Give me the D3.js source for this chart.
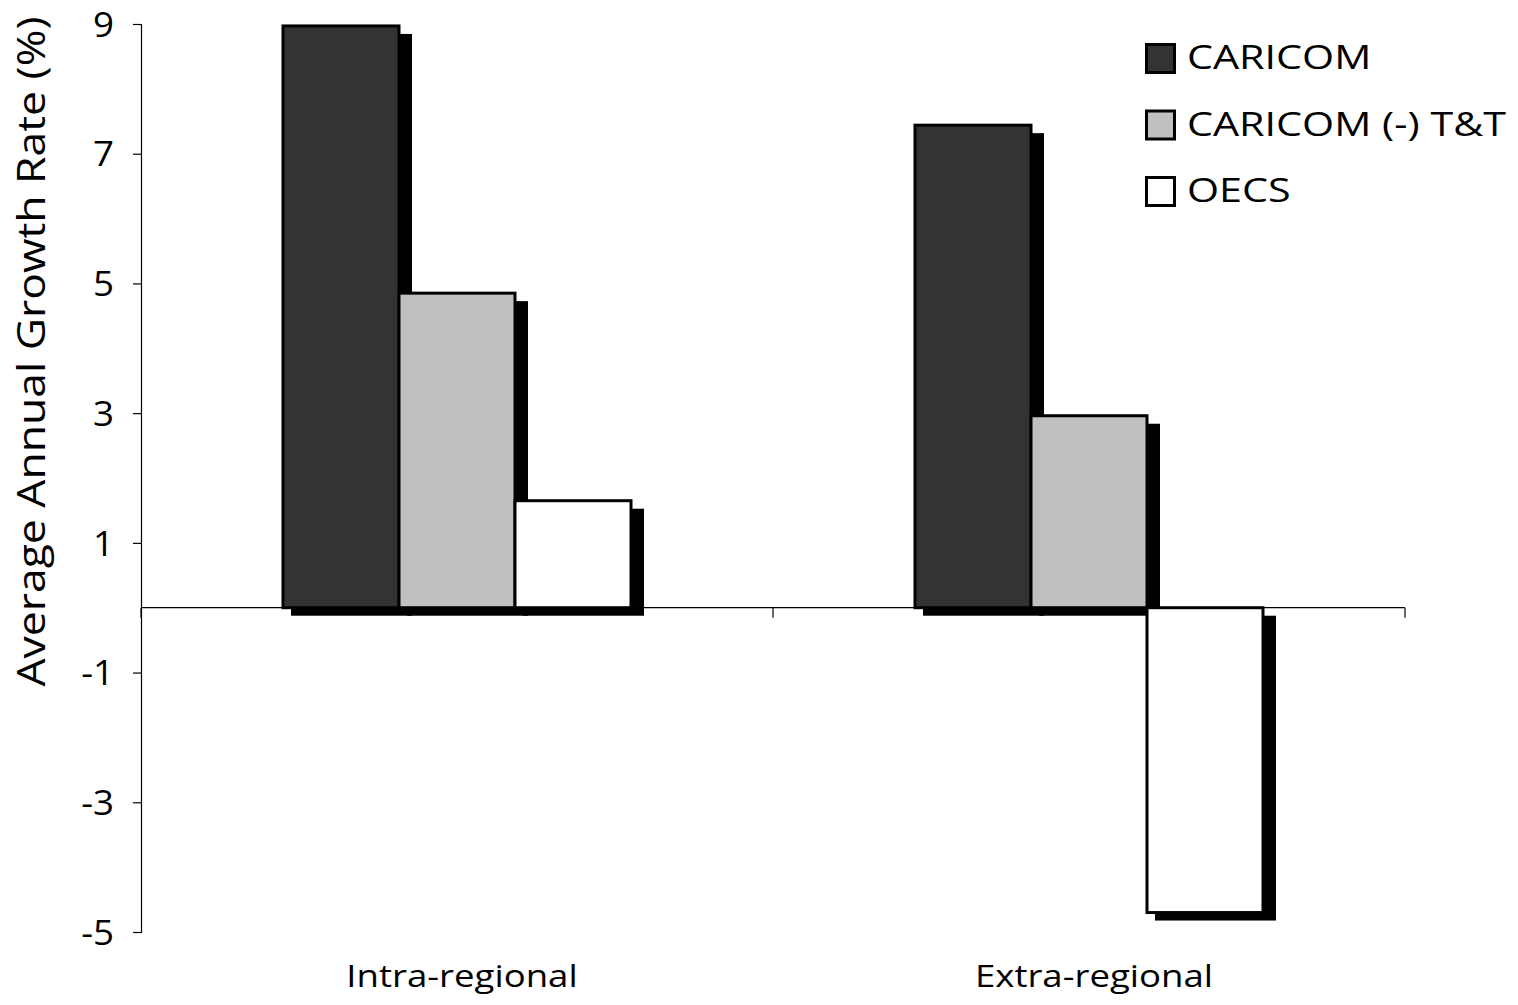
<!DOCTYPE html>
<html><head><meta charset="utf-8">
<script src="https://cdn.jsdelivr.net/npm/d3@7"></script>
<style>body{margin:0;background:#fff}svg{display:block}text{font-family:"Open Sans",Lato,sans-serif;fill:#000}</style>
</head><body>
<script>
const categories = ["Intra-regional", "Extra-regional"];
const seriesNames = ["CARICOM", "CARICOM (-) T&T", "OECS"];
const caricom = [8.97, 7.44];
const caricomNoTT = [4.85, 2.96];
const oecs = [1.65, -4.70];
const yTicks = [9, 7, 5, 3, 1, -1, -3, -5];
const colors = ["#333333", "#c0c0c0", "#ffffff"];

(function () {
const W = 1518, H = 1005;
const svg = d3.select("body").append("svg").attr("width", W).attr("height", H);
const mLeft = 141, mRight = 1405, mTop = 24, mBottom = 932;
const y = d3.scaleLinear().domain([-5, 9]).range([mBottom, mTop]);
const x0 = d3.scaleBand().domain(categories).range([mLeft, mRight]);
const x1 = d3.scaleBand().domain(seriesNames).range([0, 348]);
const seriesVals = [caricom, caricomNoTT, oecs];
const stretch = (sel, k) => sel.each(function () {
  const len = this.getComputedTextLength();
  d3.select(this).attr("textLength", len * k).attr("lengthAdjust", "spacingAndGlyphs");
});

const yAxis = svg.append("g").attr("transform", `translate(${mLeft},0)`)
  .call(d3.axisLeft(y).tickValues(yTicks).tickSize(8).tickPadding(19).tickFormat(d => String(d)));
yAxis.select(".domain").attr("stroke", "#000").attr("stroke-width", 1.2);
yAxis.selectAll(".tick line").attr("stroke", "#000").attr("stroke-width", 1.2);
yAxis.selectAll(".tick text").attr("font-size", 35).attr("font-family", "'Open Sans',Lato,sans-serif").attr("dy", "0.35em");
stretch(yAxis.selectAll(".tick text"), 1.05);

svg.append("line").attr("x1", mLeft).attr("x2", mRight).attr("y1", y(0)).attr("y2", y(0)).attr("stroke", "#000").attr("stroke-width", 1.2);
const catTicks = [mLeft, x0(categories[1]), mRight];
svg.selectAll(".ct").data(catTicks).enter().append("line")
  .attr("x1", d => d).attr("x2", d => d).attr("y1", y(0)).attr("y2", y(0) + 10)
  .attr("stroke", "#000").attr("stroke-width", 1.2);

const data = [];
categories.forEach((c, ci) => seriesNames.forEach((s, si) => data.push({c, s, si, v: seriesVals[si][ci]})));
const bx = d => x0(d.c) + (x0.bandwidth() - 348) / 2 + x1(d.s);
const g = svg.append("g");
g.selectAll(".sh").data(data).enter().append("rect")
  .attr("x", d => bx(d) + 8)
  .attr("y", d => Math.min(y(d.v), y(0)) + 8)
  .attr("width", x1.bandwidth() + 5)
  .attr("height", d => Math.abs(y(d.v) - y(0)))
  .attr("fill", "#000");
g.selectAll(".bar").data(data).enter().append("rect")
  .attr("x", d => bx(d))
  .attr("y", d => Math.min(y(d.v), y(0)))
  .attr("width", x1.bandwidth())
  .attr("height", d => Math.abs(y(d.v) - y(0)))
  .attr("fill", d => colors[d.si]).attr("stroke", "#000").attr("stroke-width", 3);

const cl = svg.selectAll(".cl").data(categories).enter().append("text")
  .attr("x", d => x0(d) + x0.bandwidth() / 2 + 5).attr("y", 987)
  .attr("text-anchor", "middle").attr("font-size", 31).text(d => d);
stretch(cl, 1.18);

const yt = svg.append("text").attr("transform", `translate(45,${(15 + 688) / 2}) rotate(-90)`)
  .attr("text-anchor", "middle").attr("font-size", 39).text("Average Annual Growth Rate (%)");
stretch(yt, 1.14);

const lg = svg.append("g").attr("transform", "translate(1145,43)");
seriesNames.forEach((s, i) => {
  const row = lg.append("g").attr("transform", `translate(0,${i * 66.5})`);
  row.append("rect").attr("x", 1.5).attr("y", 1.5).attr("width", 28).attr("height", 28)
    .attr("fill", colors[i]).attr("stroke", "#000").attr("stroke-width", 3);
  const t = row.append("text").attr("x", 42).attr("y", 26).attr("font-size", 32).text(s);
  stretch(t, 1.29);
});
})();
</script>
</body></html>
